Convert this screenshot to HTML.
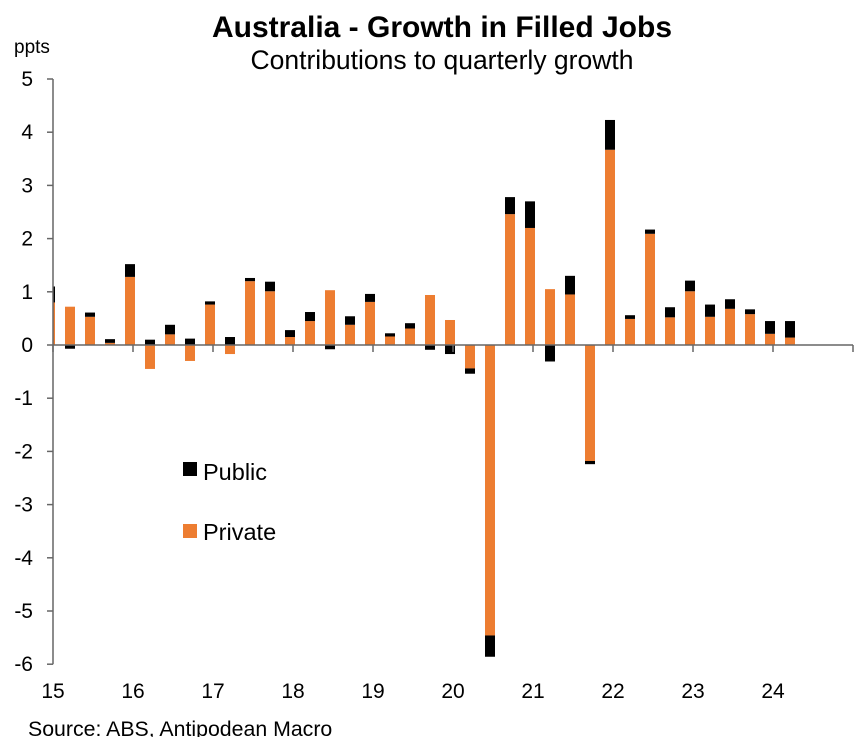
<!DOCTYPE html>
<html><head><meta charset="utf-8"><style>
body{margin:0;background:#fff;font-family:"Liberation Sans",Arial,sans-serif;}
svg{display:block}
</style></head><body>
<svg id="c" width="855" height="737">
<text x="442" y="37" text-anchor="middle" font-size="30" font-weight="bold">Australia - Growth in Filled Jobs</text>
<text x="442" y="69" text-anchor="middle" font-size="26.5">Contributions to quarterly growth</text>
<text x="14" y="53" font-size="19">ppts</text>
<text x="28" y="736" font-size="21.3">Source: ABS, Antipodean Macro</text>
<g id="bars"></g>
<g id="axes"></g>
<rect x="183" y="462" width="14" height="14" fill="#000"/>
<text x="203" y="480" font-size="23.5">Public</text>
<rect x="183" y="524" width="14" height="14" fill="#ED7D31"/>
<text x="203" y="540" font-size="23.5">Private</text>
</svg>
<script>
const privateVals=[0.8,0.72,0.53,0.04,1.28,-0.45,0.2,-0.3,0.76,-0.17,1.2,1.01,0.15,0.45,1.03,0.38,0.81,0.16,0.31,0.94,0.47,-0.44,-5.46,2.46,2.2,1.05,0.95,-2.18,3.67,0.49,2.09,0.52,1.01,0.53,0.68,0.58,0.21,0.14];
const publicVals=[0.3,-0.07,0.08,0.07,0.24,0.1,0.18,0.12,0.06,0.15,0.06,0.18,0.13,0.17,-0.08,0.16,0.15,0.06,0.1,-0.09,-0.17,-0.1,-0.4,0.32,0.5,-0.31,0.35,-0.06,0.56,0.07,0.08,0.19,0.2,0.23,0.18,0.09,0.24,0.31];
const yTicks=[5,4,3,2,1,0,-1,-2,-3,-4,-5,-6];
const yearLabels=["15","16","17","18","19","20","21","22","23","24"];
const NS="http://www.w3.org/2000/svg";
const x0=53,x1=853,qW=20;
const y=v=>345-v*53.2;
const xq=i=>50+i*qW;
const bars=document.getElementById('bars'),axes=document.getElementById('axes');
function mk(t,a,p){const e=document.createElementNS(NS,t);for(const k in a)e.setAttribute(k,a[k]);p.appendChild(e);return e;}
const clip=mk('clipPath',{id:'pc'},document.getElementById('c'));
mk('rect',{x:x0,y:0,width:x1-x0,height:737},clip);
bars.setAttribute('clip-path','url(#pc)');
privateVals.forEach((pv,i)=>{
  const pu=publicVals[i];
  const cx=xq(i),w=10;
  let pos=0,neg=0;
  const seg=(v,col,name)=>{
    let a,b;
    if(v>=0){a=pos;b=pos+v;pos=b;}else{a=neg;b=neg+v;neg=b;}
    const r=mk('rect',{x:cx-w/2,y:Math.min(y(a),y(b)),width:w,height:Math.abs(y(a)-y(b)),fill:col},bars);
    
    
  };
  seg(pv,'#ED7D31','bar-private-'+i);
  seg(pu,'#000','bar-public-'+i);
});
mk('line',{x1:x0,y1:y(5),x2:x0,y2:y(-6),stroke:'#666','stroke-width':1.5},axes);
mk('line',{x1:x0,y1:y(0),x2:x1,y2:y(0),stroke:'#666','stroke-width':1.5},axes);
yTicks.forEach(t=>{
  mk('line',{x1:x0-6,y1:y(t),x2:x0,y2:y(t),stroke:'#666','stroke-width':1.5},axes);
  const tx=mk('text',{x:x0-20,y:y(t)+7,'text-anchor':'end','font-size':21},axes);
  tx.textContent=t;
  
  
});
for(let k=0;k<=yearLabels.length;k++){
  const xx=x0+k*80;
  mk('line',{x1:xx,y1:y(0),x2:xx,y2:y(0)+7,stroke:'#666','stroke-width':1.5},axes);
  if(k<yearLabels.length){
    const tx=mk('text',{x:xx,y:698,'text-anchor':'middle','font-size':21},axes);
    tx.textContent=yearLabels[k];
    
    
  }
}
</script>
</body></html>
